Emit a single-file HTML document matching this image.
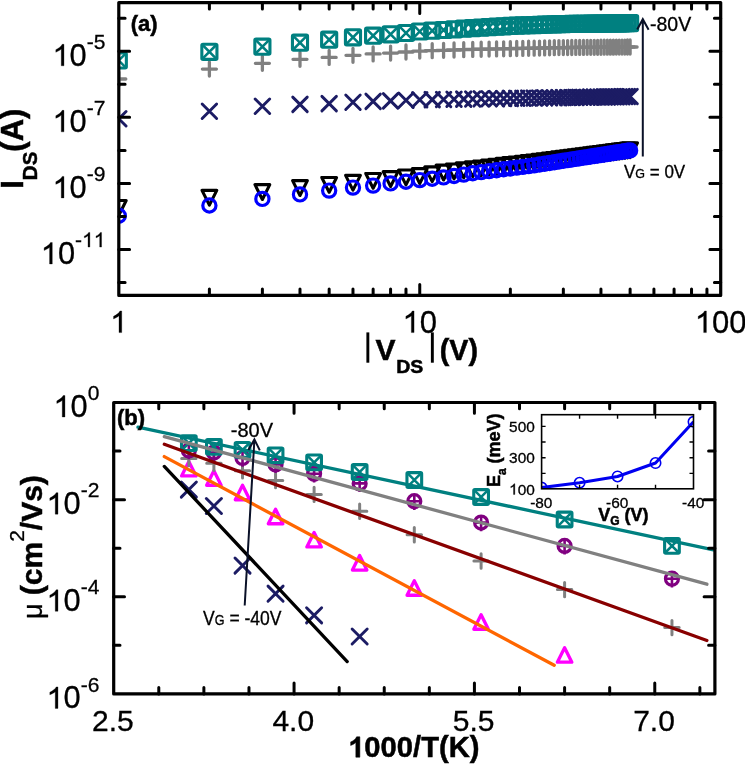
<!DOCTYPE html><html><head><meta charset="utf-8"><style>html,body{margin:0;padding:0;background:#fff;}svg{display:block;will-change:transform;}text{font-family:"Liberation Sans",sans-serif;stroke:#000;stroke-width:0.3px;}[font-weight="bold"]{stroke-width:0.5px;}</style></head><body><svg width="745" height="764" viewBox="0 0 745 764"><rect width="745" height="764" fill="#fff"/><defs><clipPath id="ca"><rect x="118.8" y="2.6" width="601.9" height="292.8"/></clipPath><clipPath id="cb"><rect x="113.7" y="402.5" width="601.2" height="291.4"/></clipPath></defs><g clip-path="url(#ca)" fill="none"><path d="M111.4 200.55H126.2L118.8 215.35Z" fill="none" stroke="#000" stroke-width="3.1" stroke-linejoin="round"/><path d="M201.99 190.35H216.79L209.39 205.15Z" fill="none" stroke="#000" stroke-width="3.1" stroke-linejoin="round"/><path d="M254.99 184.65H269.79L262.39 199.45Z" fill="none" stroke="#000" stroke-width="3.1" stroke-linejoin="round"/><path d="M292.59 180.65H307.39L299.99 195.45Z" fill="none" stroke="#000" stroke-width="3.1" stroke-linejoin="round"/><path d="M321.76 177.45H336.56L329.16 192.25Z" fill="none" stroke="#000" stroke-width="3.1" stroke-linejoin="round"/><path d="M345.58 175.35H360.38L352.98 190.15Z" fill="none" stroke="#000" stroke-width="3.1" stroke-linejoin="round"/><path d="M365.73 173.45H380.53L373.13 188.25Z" fill="none" stroke="#000" stroke-width="3.1" stroke-linejoin="round"/><path d="M383.18 171.65H397.98L390.58 186.45Z" fill="none" stroke="#000" stroke-width="3.1" stroke-linejoin="round"/><path d="M398.58 170.05H413.38L405.98 184.85Z" fill="none" stroke="#000" stroke-width="3.1" stroke-linejoin="round"/><path d="M412.35 168.66H427.15L419.75 183.46Z" fill="none" stroke="#000" stroke-width="3.1" stroke-linejoin="round"/><path d="M424.81 166.86H439.61L432.21 181.66Z" fill="none" stroke="#000" stroke-width="3.1" stroke-linejoin="round"/><path d="M436.18 165.15H450.98L443.58 179.95Z" fill="none" stroke="#000" stroke-width="3.1" stroke-linejoin="round"/><path d="M446.64 163.98H461.44L454.04 178.78Z" fill="none" stroke="#000" stroke-width="3.1" stroke-linejoin="round"/><path d="M456.33 162.9H471.13L463.73 177.7Z" fill="none" stroke="#000" stroke-width="3.1" stroke-linejoin="round"/><path d="M465.34 161.88H480.14L472.74 176.68Z" fill="none" stroke="#000" stroke-width="3.1" stroke-linejoin="round"/><path d="M473.78 160.94H488.58L481.18 175.74Z" fill="none" stroke="#000" stroke-width="3.1" stroke-linejoin="round"/><path d="M481.7 160.05H496.5L489.1 174.85Z" fill="none" stroke="#000" stroke-width="3.1" stroke-linejoin="round"/><path d="M489.17 159.22H503.97L496.57 174.02Z" fill="none" stroke="#000" stroke-width="3.1" stroke-linejoin="round"/><path d="M496.24 158.42H511.04L503.64 173.22Z" fill="none" stroke="#000" stroke-width="3.1" stroke-linejoin="round"/><path d="M502.94 157.67H517.74L510.34 172.47Z" fill="none" stroke="#000" stroke-width="3.1" stroke-linejoin="round"/><path d="M509.32 156.96H524.12L516.72 171.76Z" fill="none" stroke="#000" stroke-width="3.1" stroke-linejoin="round"/><path d="M515.4 156.28H530.2L522.8 171.08Z" fill="none" stroke="#000" stroke-width="3.1" stroke-linejoin="round"/><path d="M521.21 155.63H536.01L528.61 170.43Z" fill="none" stroke="#000" stroke-width="3.1" stroke-linejoin="round"/><path d="M526.77 155H541.57L534.17 169.8Z" fill="none" stroke="#000" stroke-width="3.1" stroke-linejoin="round"/><path d="M532.11 154.4H546.91L539.51 169.2Z" fill="none" stroke="#000" stroke-width="3.1" stroke-linejoin="round"/><path d="M537.24 153.75H552.04L544.64 168.55Z" fill="none" stroke="#000" stroke-width="3.1" stroke-linejoin="round"/><path d="M542.17 153.12H556.97L549.57 167.92Z" fill="none" stroke="#000" stroke-width="3.1" stroke-linejoin="round"/><path d="M546.92 152.51H561.72L554.32 167.31Z" fill="none" stroke="#000" stroke-width="3.1" stroke-linejoin="round"/><path d="M551.51 151.92H566.31L558.91 166.72Z" fill="none" stroke="#000" stroke-width="3.1" stroke-linejoin="round"/><path d="M555.94 151.35H570.74L563.34 166.15Z" fill="none" stroke="#000" stroke-width="3.1" stroke-linejoin="round"/><path d="M560.23 150.79H575.03L567.63 165.59Z" fill="none" stroke="#000" stroke-width="3.1" stroke-linejoin="round"/><path d="M564.37 150.26H579.17L571.77 165.06Z" fill="none" stroke="#000" stroke-width="3.1" stroke-linejoin="round"/><path d="M568.4 149.74H583.2L575.8 164.54Z" fill="none" stroke="#000" stroke-width="3.1" stroke-linejoin="round"/><path d="M572.3 149.24H587.1L579.7 164.04Z" fill="none" stroke="#000" stroke-width="3.1" stroke-linejoin="round"/><path d="M576.09 148.75H590.89L583.49 163.55Z" fill="none" stroke="#000" stroke-width="3.1" stroke-linejoin="round"/><path d="M579.77 148.28H594.57L587.17 163.08Z" fill="none" stroke="#000" stroke-width="3.1" stroke-linejoin="round"/><path d="M583.35 147.82H598.15L590.75 162.62Z" fill="none" stroke="#000" stroke-width="3.1" stroke-linejoin="round"/><path d="M586.84 147.37H601.64L594.24 162.17Z" fill="none" stroke="#000" stroke-width="3.1" stroke-linejoin="round"/><path d="M590.23 146.93H605.03L597.63 161.73Z" fill="none" stroke="#000" stroke-width="3.1" stroke-linejoin="round"/><path d="M593.54 146.5H608.34L600.94 161.3Z" fill="none" stroke="#000" stroke-width="3.1" stroke-linejoin="round"/><path d="M596.77 146.09H611.57L604.17 160.89Z" fill="none" stroke="#000" stroke-width="3.1" stroke-linejoin="round"/><path d="M599.92 145.68H614.72L607.32 160.48Z" fill="none" stroke="#000" stroke-width="3.1" stroke-linejoin="round"/><path d="M602.99 145.29H617.79L610.39 160.09Z" fill="none" stroke="#000" stroke-width="3.1" stroke-linejoin="round"/><path d="M606 144.9H620.8L613.4 159.7Z" fill="none" stroke="#000" stroke-width="3.1" stroke-linejoin="round"/><path d="M608.93 144.52H623.73L616.33 159.32Z" fill="none" stroke="#000" stroke-width="3.1" stroke-linejoin="round"/><path d="M611.81 144.15H626.61L619.21 158.95Z" fill="none" stroke="#000" stroke-width="3.1" stroke-linejoin="round"/><path d="M614.62 143.79H629.42L622.02 158.59Z" fill="none" stroke="#000" stroke-width="3.1" stroke-linejoin="round"/><path d="M617.37 143.44H632.17L624.77 158.24Z" fill="none" stroke="#000" stroke-width="3.1" stroke-linejoin="round"/><path d="M620.06 143.09H634.86L627.46 157.89Z" fill="none" stroke="#000" stroke-width="3.1" stroke-linejoin="round"/><path d="M622.71 142.75H637.51L630.11 157.55Z" fill="none" stroke="#000" stroke-width="3.1" stroke-linejoin="round"/><circle cx="118.8" cy="215.8" r="6.6" fill="none" stroke="#0000ff" stroke-width="3.2"/><circle cx="209.39" cy="205.5" r="6.6" fill="none" stroke="#0000ff" stroke-width="3.2"/><circle cx="262.39" cy="198.9" r="6.6" fill="none" stroke="#0000ff" stroke-width="3.2"/><circle cx="299.99" cy="194.4" r="6.6" fill="none" stroke="#0000ff" stroke-width="3.2"/><circle cx="329.16" cy="190.61" r="6.6" fill="none" stroke="#0000ff" stroke-width="3.2"/><circle cx="352.98" cy="187.6" r="6.6" fill="none" stroke="#0000ff" stroke-width="3.2"/><circle cx="373.13" cy="185.6" r="6.6" fill="none" stroke="#0000ff" stroke-width="3.2"/><circle cx="390.58" cy="183.4" r="6.6" fill="none" stroke="#0000ff" stroke-width="3.2"/><circle cx="405.98" cy="181.7" r="6.6" fill="none" stroke="#0000ff" stroke-width="3.2"/><circle cx="419.75" cy="180.11" r="6.6" fill="none" stroke="#0000ff" stroke-width="3.2"/><circle cx="432.21" cy="178.69" r="6.6" fill="none" stroke="#0000ff" stroke-width="3.2"/><circle cx="443.58" cy="177.4" r="6.6" fill="none" stroke="#0000ff" stroke-width="3.2"/><circle cx="454.04" cy="175.95" r="6.6" fill="none" stroke="#0000ff" stroke-width="3.2"/><circle cx="463.73" cy="174.6" r="6.6" fill="none" stroke="#0000ff" stroke-width="3.2"/><circle cx="472.74" cy="173.19" r="6.6" fill="none" stroke="#0000ff" stroke-width="3.2"/><circle cx="481.18" cy="172.13" r="6.6" fill="none" stroke="#0000ff" stroke-width="3.2"/><circle cx="489.1" cy="171.14" r="6.6" fill="none" stroke="#0000ff" stroke-width="3.2"/><circle cx="496.57" cy="170.2" r="6.6" fill="none" stroke="#0000ff" stroke-width="3.2"/><circle cx="503.64" cy="169.31" r="6.6" fill="none" stroke="#0000ff" stroke-width="3.2"/><circle cx="510.34" cy="168.47" r="6.6" fill="none" stroke="#0000ff" stroke-width="3.2"/><circle cx="516.72" cy="167.67" r="6.6" fill="none" stroke="#0000ff" stroke-width="3.2"/><circle cx="522.8" cy="166.9" r="6.6" fill="none" stroke="#0000ff" stroke-width="3.2"/><circle cx="528.61" cy="166.17" r="6.6" fill="none" stroke="#0000ff" stroke-width="3.2"/><circle cx="534.17" cy="165.35" r="6.6" fill="none" stroke="#0000ff" stroke-width="3.2"/><circle cx="539.51" cy="164.52" r="6.6" fill="none" stroke="#0000ff" stroke-width="3.2"/><circle cx="544.64" cy="163.72" r="6.6" fill="none" stroke="#0000ff" stroke-width="3.2"/><circle cx="549.57" cy="162.95" r="6.6" fill="none" stroke="#0000ff" stroke-width="3.2"/><circle cx="554.32" cy="162.21" r="6.6" fill="none" stroke="#0000ff" stroke-width="3.2"/><circle cx="558.91" cy="161.49" r="6.6" fill="none" stroke="#0000ff" stroke-width="3.2"/><circle cx="563.34" cy="160.8" r="6.6" fill="none" stroke="#0000ff" stroke-width="3.2"/><circle cx="567.63" cy="160.14" r="6.6" fill="none" stroke="#0000ff" stroke-width="3.2"/><circle cx="571.77" cy="159.49" r="6.6" fill="none" stroke="#0000ff" stroke-width="3.2"/><circle cx="575.8" cy="158.86" r="6.6" fill="none" stroke="#0000ff" stroke-width="3.2"/><circle cx="579.7" cy="158.25" r="6.6" fill="none" stroke="#0000ff" stroke-width="3.2"/><circle cx="583.49" cy="157.66" r="6.6" fill="none" stroke="#0000ff" stroke-width="3.2"/><circle cx="587.17" cy="157.09" r="6.6" fill="none" stroke="#0000ff" stroke-width="3.2"/><circle cx="590.75" cy="156.53" r="6.6" fill="none" stroke="#0000ff" stroke-width="3.2"/><circle cx="594.24" cy="155.99" r="6.6" fill="none" stroke="#0000ff" stroke-width="3.2"/><circle cx="597.63" cy="155.46" r="6.6" fill="none" stroke="#0000ff" stroke-width="3.2"/><circle cx="600.94" cy="154.94" r="6.6" fill="none" stroke="#0000ff" stroke-width="3.2"/><circle cx="604.17" cy="154.44" r="6.6" fill="none" stroke="#0000ff" stroke-width="3.2"/><circle cx="607.32" cy="153.95" r="6.6" fill="none" stroke="#0000ff" stroke-width="3.2"/><circle cx="610.39" cy="153.47" r="6.6" fill="none" stroke="#0000ff" stroke-width="3.2"/><circle cx="613.4" cy="153" r="6.6" fill="none" stroke="#0000ff" stroke-width="3.2"/><circle cx="616.33" cy="152.55" r="6.6" fill="none" stroke="#0000ff" stroke-width="3.2"/><circle cx="619.21" cy="152.1" r="6.6" fill="none" stroke="#0000ff" stroke-width="3.2"/><circle cx="622.02" cy="151.66" r="6.6" fill="none" stroke="#0000ff" stroke-width="3.2"/><circle cx="624.77" cy="151.23" r="6.6" fill="none" stroke="#0000ff" stroke-width="3.2"/><circle cx="627.46" cy="150.81" r="6.6" fill="none" stroke="#0000ff" stroke-width="3.2"/><circle cx="630.11" cy="150.4" r="6.6" fill="none" stroke="#0000ff" stroke-width="3.2"/><path d="M111.55 111.55L126.05 126.05M111.55 126.05L126.05 111.55" stroke="#1c1c64" stroke-width="2.9" stroke-linecap="round"/><path d="M202.14 103.95L216.64 118.45M202.14 118.45L216.64 103.95" stroke="#1c1c64" stroke-width="2.9" stroke-linecap="round"/><path d="M255.14 99.05L269.64 113.55M255.14 113.55L269.64 99.05" stroke="#1c1c64" stroke-width="2.9" stroke-linecap="round"/><path d="M292.74 97.15L307.24 111.65M292.74 111.65L307.24 97.15" stroke="#1c1c64" stroke-width="2.9" stroke-linecap="round"/><path d="M321.91 96.35L336.41 110.85M321.91 110.85L336.41 96.35" stroke="#1c1c64" stroke-width="2.9" stroke-linecap="round"/><path d="M345.73 94.95L360.23 109.45M345.73 109.45L360.23 94.95" stroke="#1c1c64" stroke-width="2.9" stroke-linecap="round"/><path d="M365.88 94.15L380.38 108.65M365.88 108.65L380.38 94.15" stroke="#1c1c64" stroke-width="2.9" stroke-linecap="round"/><path d="M383.33 93.65L397.83 108.15M383.33 108.15L397.83 93.65" stroke="#1c1c64" stroke-width="2.9" stroke-linecap="round"/><path d="M398.73 93.07L413.23 107.57M398.73 107.57L413.23 93.07" stroke="#1c1c64" stroke-width="2.9" stroke-linecap="round"/><path d="M412.5 92.55L427 107.05M412.5 107.05L427 92.55" stroke="#1c1c64" stroke-width="2.9" stroke-linecap="round"/><path d="M424.96 92.36L439.46 106.86M424.96 106.86L439.46 92.36" stroke="#1c1c64" stroke-width="2.9" stroke-linecap="round"/><path d="M436.33 92.18L450.83 106.68M436.33 106.68L450.83 92.18" stroke="#1c1c64" stroke-width="2.9" stroke-linecap="round"/><path d="M446.79 92.01L461.29 106.51M446.79 106.51L461.29 92.01" stroke="#1c1c64" stroke-width="2.9" stroke-linecap="round"/><path d="M456.48 91.86L470.98 106.36M456.48 106.36L470.98 91.86" stroke="#1c1c64" stroke-width="2.9" stroke-linecap="round"/><path d="M465.49 91.72L479.99 106.22M465.49 106.22L479.99 91.72" stroke="#1c1c64" stroke-width="2.9" stroke-linecap="round"/><path d="M473.93 91.59L488.43 106.09M473.93 106.09L488.43 91.59" stroke="#1c1c64" stroke-width="2.9" stroke-linecap="round"/><path d="M481.85 91.46L496.35 105.96M481.85 105.96L496.35 91.46" stroke="#1c1c64" stroke-width="2.9" stroke-linecap="round"/><path d="M489.32 91.35L503.82 105.85M489.32 105.85L503.82 91.35" stroke="#1c1c64" stroke-width="2.9" stroke-linecap="round"/><path d="M496.39 91.23L510.89 105.73M496.39 105.73L510.89 91.23" stroke="#1c1c64" stroke-width="2.9" stroke-linecap="round"/><path d="M503.09 91.13L517.59 105.63M503.09 105.63L517.59 91.13" stroke="#1c1c64" stroke-width="2.9" stroke-linecap="round"/><path d="M509.47 91.03L523.97 105.53M509.47 105.53L523.97 91.03" stroke="#1c1c64" stroke-width="2.9" stroke-linecap="round"/><path d="M515.55 90.93L530.05 105.43M515.55 105.43L530.05 90.93" stroke="#1c1c64" stroke-width="2.9" stroke-linecap="round"/><path d="M521.36 90.84L535.86 105.34M521.36 105.34L535.86 90.84" stroke="#1c1c64" stroke-width="2.9" stroke-linecap="round"/><path d="M526.92 90.76L541.42 105.26M526.92 105.26L541.42 90.76" stroke="#1c1c64" stroke-width="2.9" stroke-linecap="round"/><path d="M532.26 90.67L546.76 105.17M532.26 105.17L546.76 90.67" stroke="#1c1c64" stroke-width="2.9" stroke-linecap="round"/><path d="M537.39 90.59L551.89 105.09M537.39 105.09L551.89 90.59" stroke="#1c1c64" stroke-width="2.9" stroke-linecap="round"/><path d="M542.32 90.51L556.82 105.01M542.32 105.01L556.82 90.51" stroke="#1c1c64" stroke-width="2.9" stroke-linecap="round"/><path d="M547.07 90.44L561.57 104.94M547.07 104.94L561.57 90.44" stroke="#1c1c64" stroke-width="2.9" stroke-linecap="round"/><path d="M551.66 90.37L566.16 104.87M551.66 104.87L566.16 90.37" stroke="#1c1c64" stroke-width="2.9" stroke-linecap="round"/><path d="M556.09 90.3L570.59 104.8M556.09 104.8L570.59 90.3" stroke="#1c1c64" stroke-width="2.9" stroke-linecap="round"/><path d="M560.38 90.23L574.88 104.73M560.38 104.73L574.88 90.23" stroke="#1c1c64" stroke-width="2.9" stroke-linecap="round"/><path d="M564.52 90.17L579.02 104.67M564.52 104.67L579.02 90.17" stroke="#1c1c64" stroke-width="2.9" stroke-linecap="round"/><path d="M568.55 90.1L583.05 104.6M568.55 104.6L583.05 90.1" stroke="#1c1c64" stroke-width="2.9" stroke-linecap="round"/><path d="M572.45 90.04L586.95 104.54M572.45 104.54L586.95 90.04" stroke="#1c1c64" stroke-width="2.9" stroke-linecap="round"/><path d="M576.24 89.98L590.74 104.48M576.24 104.48L590.74 89.98" stroke="#1c1c64" stroke-width="2.9" stroke-linecap="round"/><path d="M579.92 89.92L594.42 104.42M579.92 104.42L594.42 89.92" stroke="#1c1c64" stroke-width="2.9" stroke-linecap="round"/><path d="M583.5 89.87L598 104.37M583.5 104.37L598 89.87" stroke="#1c1c64" stroke-width="2.9" stroke-linecap="round"/><path d="M586.99 89.81L601.49 104.31M586.99 104.31L601.49 89.81" stroke="#1c1c64" stroke-width="2.9" stroke-linecap="round"/><path d="M590.38 89.76L604.88 104.26M590.38 104.26L604.88 89.76" stroke="#1c1c64" stroke-width="2.9" stroke-linecap="round"/><path d="M593.69 89.71L608.19 104.21M593.69 104.21L608.19 89.71" stroke="#1c1c64" stroke-width="2.9" stroke-linecap="round"/><path d="M596.92 89.66L611.42 104.16M596.92 104.16L611.42 89.66" stroke="#1c1c64" stroke-width="2.9" stroke-linecap="round"/><path d="M600.07 89.61L614.57 104.11M600.07 104.11L614.57 89.61" stroke="#1c1c64" stroke-width="2.9" stroke-linecap="round"/><path d="M603.14 89.56L617.64 104.06M603.14 104.06L617.64 89.56" stroke="#1c1c64" stroke-width="2.9" stroke-linecap="round"/><path d="M606.15 89.51L620.65 104.01M606.15 104.01L620.65 89.51" stroke="#1c1c64" stroke-width="2.9" stroke-linecap="round"/><path d="M609.08 89.47L623.58 103.97M609.08 103.97L623.58 89.47" stroke="#1c1c64" stroke-width="2.9" stroke-linecap="round"/><path d="M611.96 89.42L626.46 103.92M611.96 103.92L626.46 89.42" stroke="#1c1c64" stroke-width="2.9" stroke-linecap="round"/><path d="M614.77 89.38L629.27 103.88M614.77 103.88L629.27 89.38" stroke="#1c1c64" stroke-width="2.9" stroke-linecap="round"/><path d="M617.52 89.33L632.02 103.83M617.52 103.83L632.02 89.33" stroke="#1c1c64" stroke-width="2.9" stroke-linecap="round"/><path d="M620.21 89.29L634.71 103.79M620.21 103.79L634.71 89.29" stroke="#1c1c64" stroke-width="2.9" stroke-linecap="round"/><path d="M622.86 89.25L637.36 103.75M622.86 103.75L637.36 89.25" stroke="#1c1c64" stroke-width="2.9" stroke-linecap="round"/><path d="M111.8 79H125.8M118.8 72V86" stroke="#808080" stroke-width="3.3" stroke-linecap="round"/><path d="M202.39 69.1H216.39M209.39 62.1V76.1" stroke="#808080" stroke-width="3.3" stroke-linecap="round"/><path d="M255.39 63.3H269.39M262.39 56.3V70.3" stroke="#808080" stroke-width="3.3" stroke-linecap="round"/><path d="M292.99 59.3H306.99M299.99 52.3V66.3" stroke="#808080" stroke-width="3.3" stroke-linecap="round"/><path d="M322.16 57.4H336.16M329.16 50.4V64.4" stroke="#808080" stroke-width="3.3" stroke-linecap="round"/><path d="M345.98 55.3H359.98M352.98 48.3V62.3" stroke="#808080" stroke-width="3.3" stroke-linecap="round"/><path d="M366.13 53.9H380.13M373.13 46.9V60.9" stroke="#808080" stroke-width="3.3" stroke-linecap="round"/><path d="M383.58 53.1H397.58M390.58 46.1V60.1" stroke="#808080" stroke-width="3.3" stroke-linecap="round"/><path d="M398.98 52H412.98M405.98 45V59" stroke="#808080" stroke-width="3.3" stroke-linecap="round"/><path d="M412.75 51.1H426.75M419.75 44.1V58.1" stroke="#808080" stroke-width="3.3" stroke-linecap="round"/><path d="M425.21 50.7H439.21M432.21 43.7V57.7" stroke="#808080" stroke-width="3.3" stroke-linecap="round"/><path d="M436.58 50.34H450.58M443.58 43.34V57.34" stroke="#808080" stroke-width="3.3" stroke-linecap="round"/><path d="M447.04 50.01H461.04M454.04 43.01V57.01" stroke="#808080" stroke-width="3.3" stroke-linecap="round"/><path d="M456.73 49.7H470.73M463.73 42.7V56.7" stroke="#808080" stroke-width="3.3" stroke-linecap="round"/><path d="M465.74 49.44H479.74M472.74 42.44V56.44" stroke="#808080" stroke-width="3.3" stroke-linecap="round"/><path d="M474.18 49.26H488.18M481.18 42.26V56.26" stroke="#808080" stroke-width="3.3" stroke-linecap="round"/><path d="M482.1 49.1H496.1M489.1 42.1V56.1" stroke="#808080" stroke-width="3.3" stroke-linecap="round"/><path d="M489.57 48.94H503.57M496.57 41.94V55.94" stroke="#808080" stroke-width="3.3" stroke-linecap="round"/><path d="M496.64 48.79H510.64M503.64 41.79V55.79" stroke="#808080" stroke-width="3.3" stroke-linecap="round"/><path d="M503.34 48.65H517.34M510.34 41.65V55.65" stroke="#808080" stroke-width="3.3" stroke-linecap="round"/><path d="M509.72 48.51H523.72M516.72 41.51V55.51" stroke="#808080" stroke-width="3.3" stroke-linecap="round"/><path d="M515.8 48.39H529.8M522.8 41.39V55.39" stroke="#808080" stroke-width="3.3" stroke-linecap="round"/><path d="M521.61 48.26H535.61M528.61 41.26V55.26" stroke="#808080" stroke-width="3.3" stroke-linecap="round"/><path d="M527.17 48.15H541.17M534.17 41.15V55.15" stroke="#808080" stroke-width="3.3" stroke-linecap="round"/><path d="M532.51 48.03H546.51M539.51 41.03V55.03" stroke="#808080" stroke-width="3.3" stroke-linecap="round"/><path d="M537.64 47.92H551.64M544.64 40.92V54.92" stroke="#808080" stroke-width="3.3" stroke-linecap="round"/><path d="M542.57 47.82H556.57M549.57 40.82V54.82" stroke="#808080" stroke-width="3.3" stroke-linecap="round"/><path d="M547.32 47.72H561.32M554.32 40.72V54.72" stroke="#808080" stroke-width="3.3" stroke-linecap="round"/><path d="M551.91 47.62H565.91M558.91 40.62V54.62" stroke="#808080" stroke-width="3.3" stroke-linecap="round"/><path d="M556.34 47.57H570.34M563.34 40.57V54.57" stroke="#808080" stroke-width="3.3" stroke-linecap="round"/><path d="M560.63 47.53H574.63M567.63 40.53V54.53" stroke="#808080" stroke-width="3.3" stroke-linecap="round"/><path d="M564.77 47.5H578.77M571.77 40.5V54.5" stroke="#808080" stroke-width="3.3" stroke-linecap="round"/><path d="M568.8 47.46H582.8M575.8 40.46V54.46" stroke="#808080" stroke-width="3.3" stroke-linecap="round"/><path d="M572.7 47.43H586.7M579.7 40.43V54.43" stroke="#808080" stroke-width="3.3" stroke-linecap="round"/><path d="M576.49 47.4H590.49M583.49 40.4V54.4" stroke="#808080" stroke-width="3.3" stroke-linecap="round"/><path d="M580.17 47.37H594.17M587.17 40.37V54.37" stroke="#808080" stroke-width="3.3" stroke-linecap="round"/><path d="M583.75 47.34H597.75M590.75 40.34V54.34" stroke="#808080" stroke-width="3.3" stroke-linecap="round"/><path d="M587.24 47.31H601.24M594.24 40.31V54.31" stroke="#808080" stroke-width="3.3" stroke-linecap="round"/><path d="M590.63 47.28H604.63M597.63 40.28V54.28" stroke="#808080" stroke-width="3.3" stroke-linecap="round"/><path d="M593.94 47.25H607.94M600.94 40.25V54.25" stroke="#808080" stroke-width="3.3" stroke-linecap="round"/><path d="M597.17 47.22H611.17M604.17 40.22V54.22" stroke="#808080" stroke-width="3.3" stroke-linecap="round"/><path d="M600.32 47.2H614.32M607.32 40.2V54.2" stroke="#808080" stroke-width="3.3" stroke-linecap="round"/><path d="M603.39 47.17H617.39M610.39 40.17V54.17" stroke="#808080" stroke-width="3.3" stroke-linecap="round"/><path d="M606.4 47.14H620.4M613.4 40.14V54.14" stroke="#808080" stroke-width="3.3" stroke-linecap="round"/><path d="M609.33 47.12H623.33M616.33 40.12V54.12" stroke="#808080" stroke-width="3.3" stroke-linecap="round"/><path d="M612.21 47.09H626.21M619.21 40.09V54.09" stroke="#808080" stroke-width="3.3" stroke-linecap="round"/><path d="M615.02 47.07H629.02M622.02 40.07V54.07" stroke="#808080" stroke-width="3.3" stroke-linecap="round"/><path d="M617.77 47.05H631.77M624.77 40.05V54.05" stroke="#808080" stroke-width="3.3" stroke-linecap="round"/><path d="M620.46 47.02H634.46M627.46 40.02V54.02" stroke="#808080" stroke-width="3.3" stroke-linecap="round"/><path d="M623.11 47H637.11M630.11 40V54" stroke="#808080" stroke-width="3.3" stroke-linecap="round"/><rect x="111.25" y="52.95" width="15.1" height="15.1" rx="1.2" fill="none" stroke="#008080" stroke-width="3.1"/><path d="M111.25 52.95L126.35 68.05M111.25 68.05L126.35 52.95" stroke="#008080" stroke-width="2.5"/><rect x="201.84" y="44.25" width="15.1" height="15.1" rx="1.2" fill="none" stroke="#008080" stroke-width="3.1"/><path d="M201.84 44.25L216.94 59.35M201.84 59.35L216.94 44.25" stroke="#008080" stroke-width="2.5"/><rect x="254.84" y="39.15" width="15.1" height="15.1" rx="1.2" fill="none" stroke="#008080" stroke-width="3.1"/><path d="M254.84 39.15L269.94 54.25M254.84 54.25L269.94 39.15" stroke="#008080" stroke-width="2.5"/><rect x="292.44" y="35.15" width="15.1" height="15.1" rx="1.2" fill="none" stroke="#008080" stroke-width="3.1"/><path d="M292.44 35.15L307.54 50.25M292.44 50.25L307.54 35.15" stroke="#008080" stroke-width="2.5"/><rect x="321.61" y="32.15" width="15.1" height="15.1" rx="1.2" fill="none" stroke="#008080" stroke-width="3.1"/><path d="M321.61 32.15L336.71 47.25M321.61 47.25L336.71 32.15" stroke="#008080" stroke-width="2.5"/><rect x="345.43" y="29.75" width="15.1" height="15.1" rx="1.2" fill="none" stroke="#008080" stroke-width="3.1"/><path d="M345.43 29.75L360.53 44.85M345.43 44.85L360.53 29.75" stroke="#008080" stroke-width="2.5"/><rect x="365.58" y="28.15" width="15.1" height="15.1" rx="1.2" fill="none" stroke="#008080" stroke-width="3.1"/><path d="M365.58 28.15L380.68 43.25M365.58 43.25L380.68 28.15" stroke="#008080" stroke-width="2.5"/><rect x="383.03" y="26.75" width="15.1" height="15.1" rx="1.2" fill="none" stroke="#008080" stroke-width="3.1"/><path d="M383.03 26.75L398.13 41.85M383.03 41.85L398.13 26.75" stroke="#008080" stroke-width="2.5"/><rect x="398.43" y="25.45" width="15.1" height="15.1" rx="1.2" fill="none" stroke="#008080" stroke-width="3.1"/><path d="M398.43 25.45L413.53 40.55M398.43 40.55L413.53 25.45" stroke="#008080" stroke-width="2.5"/><rect x="412.2" y="23.96" width="15.1" height="15.1" rx="1.2" fill="none" stroke="#008080" stroke-width="3.1"/><path d="M412.2 23.96L427.3 39.06M412.2 39.06L427.3 23.96" stroke="#008080" stroke-width="2.5"/><rect x="424.66" y="23.16" width="15.1" height="15.1" rx="1.2" fill="none" stroke="#008080" stroke-width="3.1"/><path d="M424.66 23.16L439.76 38.26M424.66 38.26L439.76 23.16" stroke="#008080" stroke-width="2.5"/><rect x="436.03" y="22.43" width="15.1" height="15.1" rx="1.2" fill="none" stroke="#008080" stroke-width="3.1"/><path d="M436.03 22.43L451.13 37.53M436.03 37.53L451.13 22.43" stroke="#008080" stroke-width="2.5"/><rect x="446.49" y="21.77" width="15.1" height="15.1" rx="1.2" fill="none" stroke="#008080" stroke-width="3.1"/><path d="M446.49 21.77L461.59 36.87M446.49 36.87L461.59 21.77" stroke="#008080" stroke-width="2.5"/><rect x="456.18" y="21.15" width="15.1" height="15.1" rx="1.2" fill="none" stroke="#008080" stroke-width="3.1"/><path d="M456.18 21.15L471.28 36.25M456.18 36.25L471.28 21.15" stroke="#008080" stroke-width="2.5"/><rect x="465.19" y="20.59" width="15.1" height="15.1" rx="1.2" fill="none" stroke="#008080" stroke-width="3.1"/><path d="M465.19 20.59L480.29 35.69M465.19 35.69L480.29 20.59" stroke="#008080" stroke-width="2.5"/><rect x="473.63" y="20.08" width="15.1" height="15.1" rx="1.2" fill="none" stroke="#008080" stroke-width="3.1"/><path d="M473.63 20.08L488.73 35.18M473.63 35.18L488.73 20.08" stroke="#008080" stroke-width="2.5"/><rect x="481.55" y="19.6" width="15.1" height="15.1" rx="1.2" fill="none" stroke="#008080" stroke-width="3.1"/><path d="M481.55 19.6L496.65 34.7M481.55 34.7L496.65 19.6" stroke="#008080" stroke-width="2.5"/><rect x="489.02" y="19.16" width="15.1" height="15.1" rx="1.2" fill="none" stroke="#008080" stroke-width="3.1"/><path d="M489.02 19.16L504.12 34.26M489.02 34.26L504.12 19.16" stroke="#008080" stroke-width="2.5"/><rect x="496.09" y="18.73" width="15.1" height="15.1" rx="1.2" fill="none" stroke="#008080" stroke-width="3.1"/><path d="M496.09 18.73L511.19 33.83M496.09 33.83L511.19 18.73" stroke="#008080" stroke-width="2.5"/><rect x="502.79" y="18.34" width="15.1" height="15.1" rx="1.2" fill="none" stroke="#008080" stroke-width="3.1"/><path d="M502.79 18.34L517.89 33.44M502.79 33.44L517.89 18.34" stroke="#008080" stroke-width="2.5"/><rect x="509.17" y="18.11" width="15.1" height="15.1" rx="1.2" fill="none" stroke="#008080" stroke-width="3.1"/><path d="M509.17 18.11L524.27 33.21M509.17 33.21L524.27 18.11" stroke="#008080" stroke-width="2.5"/><rect x="515.25" y="17.89" width="15.1" height="15.1" rx="1.2" fill="none" stroke="#008080" stroke-width="3.1"/><path d="M515.25 17.89L530.35 32.99M515.25 32.99L530.35 17.89" stroke="#008080" stroke-width="2.5"/><rect x="521.06" y="17.68" width="15.1" height="15.1" rx="1.2" fill="none" stroke="#008080" stroke-width="3.1"/><path d="M521.06 17.68L536.16 32.78M521.06 32.78L536.16 17.68" stroke="#008080" stroke-width="2.5"/><rect x="526.62" y="17.48" width="15.1" height="15.1" rx="1.2" fill="none" stroke="#008080" stroke-width="3.1"/><path d="M526.62 17.48L541.72 32.58M526.62 32.58L541.72 17.48" stroke="#008080" stroke-width="2.5"/><rect x="531.96" y="17.29" width="15.1" height="15.1" rx="1.2" fill="none" stroke="#008080" stroke-width="3.1"/><path d="M531.96 17.29L547.06 32.39M531.96 32.39L547.06 17.29" stroke="#008080" stroke-width="2.5"/><rect x="537.09" y="17.1" width="15.1" height="15.1" rx="1.2" fill="none" stroke="#008080" stroke-width="3.1"/><path d="M537.09 17.1L552.19 32.2M537.09 32.2L552.19 17.1" stroke="#008080" stroke-width="2.5"/><rect x="542.02" y="16.93" width="15.1" height="15.1" rx="1.2" fill="none" stroke="#008080" stroke-width="3.1"/><path d="M542.02 16.93L557.12 32.03M542.02 32.03L557.12 16.93" stroke="#008080" stroke-width="2.5"/><rect x="546.77" y="16.75" width="15.1" height="15.1" rx="1.2" fill="none" stroke="#008080" stroke-width="3.1"/><path d="M546.77 16.75L561.87 31.85M546.77 31.85L561.87 16.75" stroke="#008080" stroke-width="2.5"/><rect x="551.36" y="16.59" width="15.1" height="15.1" rx="1.2" fill="none" stroke="#008080" stroke-width="3.1"/><path d="M551.36 16.59L566.46 31.69M551.36 31.69L566.46 16.59" stroke="#008080" stroke-width="2.5"/><rect x="555.79" y="16.51" width="15.1" height="15.1" rx="1.2" fill="none" stroke="#008080" stroke-width="3.1"/><path d="M555.79 16.51L570.89 31.61M555.79 31.61L570.89 16.51" stroke="#008080" stroke-width="2.5"/><rect x="560.08" y="16.45" width="15.1" height="15.1" rx="1.2" fill="none" stroke="#008080" stroke-width="3.1"/><path d="M560.08 16.45L575.18 31.55M560.08 31.55L575.18 16.45" stroke="#008080" stroke-width="2.5"/><rect x="564.22" y="16.4" width="15.1" height="15.1" rx="1.2" fill="none" stroke="#008080" stroke-width="3.1"/><path d="M564.22 16.4L579.32 31.5M564.22 31.5L579.32 16.4" stroke="#008080" stroke-width="2.5"/><rect x="568.25" y="16.35" width="15.1" height="15.1" rx="1.2" fill="none" stroke="#008080" stroke-width="3.1"/><path d="M568.25 16.35L583.35 31.45M568.25 31.45L583.35 16.35" stroke="#008080" stroke-width="2.5"/><rect x="572.15" y="16.3" width="15.1" height="15.1" rx="1.2" fill="none" stroke="#008080" stroke-width="3.1"/><path d="M572.15 16.3L587.25 31.4M572.15 31.4L587.25 16.3" stroke="#008080" stroke-width="2.5"/><rect x="575.94" y="16.25" width="15.1" height="15.1" rx="1.2" fill="none" stroke="#008080" stroke-width="3.1"/><path d="M575.94 16.25L591.04 31.35M575.94 31.35L591.04 16.25" stroke="#008080" stroke-width="2.5"/><rect x="579.62" y="16.2" width="15.1" height="15.1" rx="1.2" fill="none" stroke="#008080" stroke-width="3.1"/><path d="M579.62 16.2L594.72 31.3M579.62 31.3L594.72 16.2" stroke="#008080" stroke-width="2.5"/><rect x="583.2" y="16.16" width="15.1" height="15.1" rx="1.2" fill="none" stroke="#008080" stroke-width="3.1"/><path d="M583.2 16.16L598.3 31.26M583.2 31.26L598.3 16.16" stroke="#008080" stroke-width="2.5"/><rect x="586.69" y="16.11" width="15.1" height="15.1" rx="1.2" fill="none" stroke="#008080" stroke-width="3.1"/><path d="M586.69 16.11L601.79 31.21M586.69 31.21L601.79 16.11" stroke="#008080" stroke-width="2.5"/><rect x="590.08" y="16.07" width="15.1" height="15.1" rx="1.2" fill="none" stroke="#008080" stroke-width="3.1"/><path d="M590.08 16.07L605.18 31.17M590.08 31.17L605.18 16.07" stroke="#008080" stroke-width="2.5"/><rect x="593.39" y="16.02" width="15.1" height="15.1" rx="1.2" fill="none" stroke="#008080" stroke-width="3.1"/><path d="M593.39 16.02L608.49 31.12M593.39 31.12L608.49 16.02" stroke="#008080" stroke-width="2.5"/><rect x="596.62" y="15.98" width="15.1" height="15.1" rx="1.2" fill="none" stroke="#008080" stroke-width="3.1"/><path d="M596.62 15.98L611.72 31.08M596.62 31.08L611.72 15.98" stroke="#008080" stroke-width="2.5"/><rect x="599.77" y="15.94" width="15.1" height="15.1" rx="1.2" fill="none" stroke="#008080" stroke-width="3.1"/><path d="M599.77 15.94L614.87 31.04M599.77 31.04L614.87 15.94" stroke="#008080" stroke-width="2.5"/><rect x="602.84" y="15.9" width="15.1" height="15.1" rx="1.2" fill="none" stroke="#008080" stroke-width="3.1"/><path d="M602.84 15.9L617.94 31M602.84 31L617.94 15.9" stroke="#008080" stroke-width="2.5"/><rect x="605.85" y="15.86" width="15.1" height="15.1" rx="1.2" fill="none" stroke="#008080" stroke-width="3.1"/><path d="M605.85 15.86L620.95 30.96M605.85 30.96L620.95 15.86" stroke="#008080" stroke-width="2.5"/><rect x="608.78" y="15.83" width="15.1" height="15.1" rx="1.2" fill="none" stroke="#008080" stroke-width="3.1"/><path d="M608.78 15.83L623.88 30.93M608.78 30.93L623.88 15.83" stroke="#008080" stroke-width="2.5"/><rect x="611.66" y="15.79" width="15.1" height="15.1" rx="1.2" fill="none" stroke="#008080" stroke-width="3.1"/><path d="M611.66 15.79L626.76 30.89M611.66 30.89L626.76 15.79" stroke="#008080" stroke-width="2.5"/><rect x="614.47" y="15.75" width="15.1" height="15.1" rx="1.2" fill="none" stroke="#008080" stroke-width="3.1"/><path d="M614.47 15.75L629.57 30.85M614.47 30.85L629.57 15.75" stroke="#008080" stroke-width="2.5"/><rect x="617.22" y="15.72" width="15.1" height="15.1" rx="1.2" fill="none" stroke="#008080" stroke-width="3.1"/><path d="M617.22 15.72L632.32 30.82M617.22 30.82L632.32 15.72" stroke="#008080" stroke-width="2.5"/><rect x="619.91" y="15.68" width="15.1" height="15.1" rx="1.2" fill="none" stroke="#008080" stroke-width="3.1"/><path d="M619.91 15.68L635.01 30.78M619.91 30.78L635.01 15.68" stroke="#008080" stroke-width="2.5"/><rect x="622.56" y="15.65" width="15.1" height="15.1" rx="1.2" fill="none" stroke="#008080" stroke-width="3.1"/><path d="M622.56 15.65L637.66 30.75M622.56 30.75L637.66 15.65" stroke="#008080" stroke-width="2.5"/></g><g stroke="#000" fill="none" stroke-linecap="round"><rect x="118.8" y="2.6" width="601.9" height="292.8" stroke-width="3.2" stroke-linejoin="round"/><path d="M118.8 18.27h6.3M720.7 18.27h-6.3M118.8 51.3h10.8M720.7 51.3h-10.8M118.8 84.33h6.3M720.7 84.33h-6.3M118.8 117.36h10.8M720.7 117.36h-10.8M118.8 150.39h6.3M720.7 150.39h-6.3M118.8 183.42h10.8M720.7 183.42h-10.8M118.8 216.45h6.3M720.7 216.45h-6.3M118.8 249.48h10.8M720.7 249.48h-10.8M118.8 282.51h6.3M720.7 282.51h-6.3M209.39 295.4v-6.3M209.39 2.6v6.3M262.39 295.4v-6.3M262.39 2.6v6.3M299.99 295.4v-6.3M299.99 2.6v6.3M329.16 295.4v-6.3M329.16 2.6v6.3M352.98 295.4v-6.3M352.98 2.6v6.3M373.13 295.4v-6.3M373.13 2.6v6.3M390.58 295.4v-6.3M390.58 2.6v6.3M405.98 295.4v-6.3M405.98 2.6v6.3M419.75 295.4v-10.8M419.75 2.6v10.8M510.34 295.4v-6.3M510.34 2.6v6.3M563.34 295.4v-6.3M563.34 2.6v6.3M600.94 295.4v-6.3M600.94 2.6v6.3M630.11 295.4v-6.3M630.11 2.6v6.3M653.93 295.4v-6.3M653.93 2.6v6.3M674.08 295.4v-6.3M674.08 2.6v6.3M691.53 295.4v-6.3M691.53 2.6v6.3M706.93 295.4v-6.3M706.93 2.6v6.3" stroke-width="3"/></g><text fill="#000"><tspan x="69.61" y="65.8" font-size="30.8">0</tspan><tspan x="86.73" y="48.9" font-size="21">-</tspan><tspan x="93.72" y="48.9" font-size="21">5</tspan></text><path d="M63.96 65.8L61.25 65.8L61.25 49.05Q60.27 49.96 58.68 50.86Q57.08 51.77 55.82 52.22L55.82 49.68Q58.09 48.64 59.79 47.17Q61.49 45.69 62.2 44.3L63.96 44.3Z" fill="#000" stroke="#000" stroke-width="0.3"/><text fill="#000"><tspan x="69.61" y="131.86" font-size="30.8">0</tspan><tspan x="86.73" y="114.96" font-size="21">-</tspan><tspan x="93.72" y="114.96" font-size="21">7</tspan></text><path d="M63.96 131.86L61.25 131.86L61.25 115.11Q60.27 116.02 58.68 116.92Q57.08 117.83 55.82 118.28L55.82 115.74Q58.09 114.7 59.79 113.23Q61.49 111.75 62.2 110.36L63.96 110.36Z" fill="#000" stroke="#000" stroke-width="0.3"/><text fill="#000"><tspan x="69.61" y="197.92" font-size="30.8">0</tspan><tspan x="86.73" y="181.02" font-size="21">-</tspan><tspan x="93.72" y="181.02" font-size="21">9</tspan></text><path d="M63.96 197.92L61.25 197.92L61.25 181.17Q60.27 182.08 58.68 182.98Q57.08 183.89 55.82 184.34L55.82 181.8Q58.09 180.76 59.79 179.29Q61.49 177.81 62.2 176.42L63.96 176.42Z" fill="#000" stroke="#000" stroke-width="0.3"/><text fill="#000"><tspan x="57.93" y="263.98" font-size="30.8">0</tspan><tspan x="75.06" y="247.08" font-size="21">-</tspan></text><path d="M52.28 263.98L49.57 263.98L49.57 247.23Q48.6 248.14 47 249.04Q45.41 249.95 44.14 250.4L44.14 247.86Q46.41 246.82 48.11 245.35Q49.81 243.87 50.52 242.48L52.28 242.48Z" fill="#000" stroke="#000" stroke-width="0.3"/><path d="M89.87 247.08L88.03 247.08L88.03 235.66Q87.36 236.28 86.27 236.89Q85.19 237.51 84.32 237.82L84.32 236.09Q85.87 235.38 87.03 234.38Q88.19 233.37 88.67 232.42L89.87 232.42Z" fill="#000" stroke="#000" stroke-width="0.3"/><path d="M101.55 247.08L99.7 247.08L99.7 235.66Q99.04 236.28 97.95 236.89Q96.86 237.51 96 237.82L96 236.09Q97.55 235.38 98.71 234.38Q99.87 233.37 100.35 232.42L101.55 232.42Z" fill="#000" stroke="#000" stroke-width="0.3"/><text fill="#000"></text><path d="M121.73 332.6L119.01 332.6L119.01 315.74Q118.02 316.65 116.42 317.56Q114.81 318.48 113.54 318.93L113.54 316.37Q115.83 315.33 117.54 313.85Q119.25 312.36 119.96 310.96L121.73 310.96Z" fill="#000" stroke="#000" stroke-width="0.3"/><text fill="#000"><tspan x="419.75" y="332.6" font-size="31">0</tspan></text><path d="M414.06 332.6L411.34 332.6L411.34 315.74Q410.35 316.65 408.75 317.56Q407.15 318.48 405.87 318.93L405.87 316.37Q408.16 315.33 409.87 313.85Q411.58 312.36 412.29 310.96L414.06 310.96Z" fill="#000" stroke="#000" stroke-width="0.3"/><text fill="#000"><tspan x="712.08" y="332.6" font-size="31">0</tspan><tspan x="729.32" y="332.6" font-size="31">0</tspan></text><path d="M706.4 332.6L703.67 332.6L703.67 315.74Q702.69 316.65 701.08 317.56Q699.48 318.48 698.21 318.93L698.21 316.37Q700.49 315.33 702.2 313.85Q703.91 312.36 704.62 310.96L706.4 310.96Z" fill="#000" stroke="#000" stroke-width="0.3"/><text transform="translate(23,188.8) rotate(-90)" font-size="31" font-weight="bold">I<tspan font-size="20.5" dy="14.1">DS</tspan><tspan dy="-14.1">(A)</tspan></text><rect x="366.4" y="332.4" width="2.9" height="30.3" fill="#000"/><rect x="430.9" y="332.4" width="2.9" height="30.3" fill="#000"/><text x="375.6" y="359.8" font-size="30" font-weight="bold">V</text><text x="396.2" y="372.7" font-size="18.2" font-weight="bold" textLength="27" lengthAdjust="spacingAndGlyphs">DS</text><text x="439.8" y="360" font-size="28.6" font-weight="bold">(V)</text><text x="130.8" y="30.9" font-size="22" font-weight="bold">(a)</text><path d="M642.8 156.6V19.4M637.2 29.5L642.8 19.2L648.6 29.8" stroke="#0a1128" stroke-width="2" fill="none"/><text transform="translate(650,31.4) scale(1,1.07)" font-size="19.5" stroke="#000" stroke-width="0.35">-80V</text><text transform="translate(624,177.6) scale(1,1.09)" font-size="17" stroke="#000" stroke-width="0.35">V<tspan font-size="12.5">G</tspan> = 0V</text><g clip-path="url(#cb)" fill="none"><path d="M181.3 482.05L196.4 497.15M181.3 497.15L196.4 482.05" stroke="#1c1c64" stroke-width="2.9" stroke-linecap="round"/><path d="M206.35 498.45L221.45 513.55M206.35 513.55L221.45 498.45" stroke="#1c1c64" stroke-width="2.9" stroke-linecap="round"/><path d="M234.98 558.05L250.08 573.15M234.98 573.15L250.08 558.05" stroke="#1c1c64" stroke-width="2.9" stroke-linecap="round"/><path d="M268.01 586.15L283.11 601.25M268.01 601.25L283.11 586.15" stroke="#1c1c64" stroke-width="2.9" stroke-linecap="round"/><path d="M306.55 607.75L321.65 622.85M306.55 622.85L321.65 607.75" stroke="#1c1c64" stroke-width="2.9" stroke-linecap="round"/><path d="M352.1 628.95L367.2 644.05M352.1 644.05L367.2 628.95" stroke="#1c1c64" stroke-width="2.9" stroke-linecap="round"/><path d="M188.85 461.45L196.1 475.95H181.6Z" fill="none" stroke="#ff00ff" stroke-width="3.3" stroke-linejoin="round"/><path d="M213.9 470.75L221.15 485.25H206.65Z" fill="none" stroke="#ff00ff" stroke-width="3.3" stroke-linejoin="round"/><path d="M242.53 485.25L249.78 499.75H235.28Z" fill="none" stroke="#ff00ff" stroke-width="3.3" stroke-linejoin="round"/><path d="M275.56 509.25L282.81 523.75H268.31Z" fill="none" stroke="#ff00ff" stroke-width="3.3" stroke-linejoin="round"/><path d="M314.1 532.45L321.35 546.95H306.85Z" fill="none" stroke="#ff00ff" stroke-width="3.3" stroke-linejoin="round"/><path d="M359.65 555.55L366.9 570.05H352.4Z" fill="none" stroke="#ff00ff" stroke-width="3.3" stroke-linejoin="round"/><path d="M414.3 580.75L421.55 595.25H407.05Z" fill="none" stroke="#ff00ff" stroke-width="3.3" stroke-linejoin="round"/><path d="M481.1 614.75L488.35 629.25H473.85Z" fill="none" stroke="#ff00ff" stroke-width="3.3" stroke-linejoin="round"/><path d="M564.6 647.65L571.85 662.15H557.35Z" fill="none" stroke="#ff00ff" stroke-width="3.3" stroke-linejoin="round"/><path d="M181.65 458.5H196.05M188.85 451.3V465.7" stroke="#808080" stroke-width="3" stroke-linecap="round"/><path d="M206.7 463.3H221.1M213.9 456.1V470.5" stroke="#808080" stroke-width="3" stroke-linecap="round"/><path d="M235.33 470.8H249.73M242.53 463.6V478" stroke="#808080" stroke-width="3" stroke-linecap="round"/><path d="M268.36 480.6H282.76M275.56 473.4V487.8" stroke="#808080" stroke-width="3" stroke-linecap="round"/><path d="M306.9 494.4H321.3M314.1 487.2V501.6" stroke="#808080" stroke-width="3" stroke-linecap="round"/><path d="M352.45 511.2H366.85M359.65 504V518.4" stroke="#808080" stroke-width="3" stroke-linecap="round"/><path d="M407.1 534.7H421.5M414.3 527.5V541.9" stroke="#808080" stroke-width="3" stroke-linecap="round"/><path d="M473.9 561H488.3M481.1 553.8V568.2" stroke="#808080" stroke-width="3" stroke-linecap="round"/><path d="M557.4 589.6H571.8M564.6 582.4V596.8" stroke="#808080" stroke-width="3" stroke-linecap="round"/><path d="M664.76 627.6H679.16M671.96 620.4V634.8" stroke="#808080" stroke-width="3" stroke-linecap="round"/><circle cx="188.85" cy="450.5" r="6.5" fill="none" stroke="#800080" stroke-width="3.2"/><path d="M182.35 450.5H195.35M188.85 444V459.2" stroke="#800080" stroke-width="2.6"/><circle cx="213.9" cy="452.6" r="6.5" fill="none" stroke="#800080" stroke-width="3.2"/><path d="M207.4 452.6H220.4M213.9 446.1V461.3" stroke="#800080" stroke-width="2.6"/><circle cx="242.53" cy="458" r="6.5" fill="none" stroke="#800080" stroke-width="3.2"/><path d="M236.03 458H249.03M242.53 451.5V466.7" stroke="#800080" stroke-width="2.6"/><circle cx="275.56" cy="464.4" r="6.5" fill="none" stroke="#800080" stroke-width="3.2"/><path d="M269.06 464.4H282.06M275.56 457.9V473.1" stroke="#800080" stroke-width="2.6"/><circle cx="314.1" cy="473.8" r="6.5" fill="none" stroke="#800080" stroke-width="3.2"/><path d="M307.6 473.8H320.6M314.1 467.3V482.5" stroke="#800080" stroke-width="2.6"/><circle cx="359.65" cy="483.4" r="6.5" fill="none" stroke="#800080" stroke-width="3.2"/><path d="M353.15 483.4H366.15M359.65 476.9V492.1" stroke="#800080" stroke-width="2.6"/><circle cx="414.3" cy="501.2" r="6.5" fill="none" stroke="#800080" stroke-width="3.2"/><path d="M407.8 501.2H420.8M414.3 494.7V509.9" stroke="#800080" stroke-width="2.6"/><circle cx="481.1" cy="522.6" r="6.5" fill="none" stroke="#800080" stroke-width="3.2"/><path d="M474.6 522.6H487.6M481.1 516.1V531.3" stroke="#800080" stroke-width="2.6"/><circle cx="564.6" cy="545.9" r="6.5" fill="none" stroke="#800080" stroke-width="3.2"/><path d="M558.1 545.9H571.1M564.6 539.4V554.6" stroke="#800080" stroke-width="2.6"/><circle cx="671.96" cy="578.7" r="6.5" fill="none" stroke="#800080" stroke-width="3.2"/><path d="M665.46 578.7H678.46M671.96 572.2V587.4" stroke="#800080" stroke-width="2.6"/><rect x="181.5" y="435.85" width="14.7" height="14.7" rx="1.2" fill="none" stroke="#008080" stroke-width="3.1"/><path d="M181.5 435.85L196.2 450.55M181.5 450.55L196.2 435.85" stroke="#008080" stroke-width="2.5"/><rect x="206.55" y="439.55" width="14.7" height="14.7" rx="1.2" fill="none" stroke="#008080" stroke-width="3.1"/><path d="M206.55 439.55L221.25 454.25M206.55 454.25L221.25 439.55" stroke="#008080" stroke-width="2.5"/><rect x="235.18" y="442.55" width="14.7" height="14.7" rx="1.2" fill="none" stroke="#008080" stroke-width="3.1"/><path d="M235.18 442.55L249.88 457.25M235.18 457.25L249.88 442.55" stroke="#008080" stroke-width="2.5"/><rect x="268.21" y="447.95" width="14.7" height="14.7" rx="1.2" fill="none" stroke="#008080" stroke-width="3.1"/><path d="M268.21 447.95L282.91 462.65M268.21 462.65L282.91 447.95" stroke="#008080" stroke-width="2.5"/><rect x="306.75" y="455.05" width="14.7" height="14.7" rx="1.2" fill="none" stroke="#008080" stroke-width="3.1"/><path d="M306.75 455.05L321.45 469.75M306.75 469.75L321.45 455.05" stroke="#008080" stroke-width="2.5"/><rect x="352.3" y="464.65" width="14.7" height="14.7" rx="1.2" fill="none" stroke="#008080" stroke-width="3.1"/><path d="M352.3 464.65L367 479.35M352.3 479.35L367 464.65" stroke="#008080" stroke-width="2.5"/><rect x="406.95" y="472.65" width="14.7" height="14.7" rx="1.2" fill="none" stroke="#008080" stroke-width="3.1"/><path d="M406.95 472.65L421.65 487.35M406.95 487.35L421.65 472.65" stroke="#008080" stroke-width="2.5"/><rect x="473.75" y="489.65" width="14.7" height="14.7" rx="1.2" fill="none" stroke="#008080" stroke-width="3.1"/><path d="M473.75 489.65L488.45 504.35M473.75 504.35L488.45 489.65" stroke="#008080" stroke-width="2.5"/><rect x="557.25" y="512.15" width="14.7" height="14.7" rx="1.2" fill="none" stroke="#008080" stroke-width="3.1"/><path d="M557.25 512.15L571.95 526.85M557.25 526.85L571.95 512.15" stroke="#008080" stroke-width="2.5"/><rect x="664.61" y="538.55" width="14.7" height="14.7" rx="1.2" fill="none" stroke="#008080" stroke-width="3.1"/><path d="M664.61 538.55L679.31 553.25M664.61 553.25L679.31 538.55" stroke="#008080" stroke-width="2.5"/></g><g clip-path="url(#cb)" fill="none" stroke-width="3.3" stroke-linecap="round"><path d="M138 427.2L713.5 549.8" stroke="#008080"/><path d="M164.3 436.6L706.9 584.2" stroke="#808080"/><path d="M164.3 444.3L706.9 640.5" stroke="#880000"/><path d="M164.3 456.6L554.2 665.3" stroke="#ff6600"/><path d="M164.3 466.4L347.2 661.6" stroke="#000"/></g><g stroke="#000" fill="none" stroke-linecap="round"><rect x="113.7" y="402.5" width="601.2" height="291.4" stroke-width="3.2" stroke-linejoin="round"/><path d="M113.7 451.07h6.3M714.9 451.07h-6.3M113.7 499.63h10.8M714.9 499.63h-10.8M113.7 548.2h6.3M714.9 548.2h-6.3M113.7 596.77h10.8M714.9 596.77h-10.8M113.7 645.33h6.3M714.9 645.33h-6.3M158.79 693.9v-6.3M158.79 402.5v6.3M203.88 693.9v-6.3M203.88 402.5v6.3M248.97 693.9v-6.3M248.97 402.5v6.3M294.06 693.9v-10.8M294.06 402.5v10.8M339.15 693.9v-6.3M339.15 402.5v6.3M384.24 693.9v-6.3M384.24 402.5v6.3M429.33 693.9v-6.3M429.33 402.5v6.3M474.42 693.9v-10.8M474.42 402.5v10.8M519.51 693.9v-6.3M519.51 402.5v6.3M564.6 693.9v-6.3M564.6 402.5v6.3M609.69 693.9v-6.3M609.69 402.5v6.3M654.78 693.9v-10.8M654.78 402.5v10.8M699.87 693.9v-6.3M699.87 402.5v6.3" stroke-width="3"/></g><text fill="#000"><tspan x="70.6" y="417" font-size="30.8">0</tspan><tspan x="87.72" y="400.1" font-size="21">0</tspan></text><path d="M64.95 417L62.24 417L62.24 400.25Q61.26 401.16 59.67 402.06Q58.08 402.97 56.81 403.42L56.81 400.88Q59.08 399.84 60.78 398.37Q62.48 396.89 63.19 395.5L64.95 395.5Z" fill="#000" stroke="#000" stroke-width="0.3"/><text fill="#000"><tspan x="63.61" y="514.13" font-size="30.8">0</tspan><tspan x="80.73" y="497.23" font-size="21">-</tspan><tspan x="87.72" y="497.23" font-size="21">2</tspan></text><path d="M57.96 514.13L55.25 514.13L55.25 497.38Q54.27 498.29 52.68 499.19Q51.08 500.1 49.82 500.55L49.82 498.01Q52.09 496.97 53.79 495.5Q55.49 494.03 56.2 492.64L57.96 492.64Z" fill="#000" stroke="#000" stroke-width="0.3"/><text fill="#000"><tspan x="63.61" y="611.27" font-size="30.8">0</tspan><tspan x="80.73" y="594.37" font-size="21">-</tspan><tspan x="87.72" y="594.37" font-size="21">4</tspan></text><path d="M57.96 611.27L55.25 611.27L55.25 594.52Q54.27 595.42 52.68 596.33Q51.08 597.23 49.82 597.69L49.82 595.15Q52.09 594.11 53.79 592.63Q55.49 591.16 56.2 589.77L57.96 589.77Z" fill="#000" stroke="#000" stroke-width="0.3"/><text fill="#000"><tspan x="63.61" y="708.4" font-size="30.8">0</tspan><tspan x="80.73" y="691.5" font-size="21">-</tspan><tspan x="87.72" y="691.5" font-size="21">6</tspan></text><path d="M57.96 708.4L55.25 708.4L55.25 691.65Q54.27 692.56 52.68 693.46Q51.08 694.37 49.82 694.82L49.82 692.28Q52.09 691.24 53.79 689.77Q55.49 688.29 56.2 686.9L57.96 686.9Z" fill="#000" stroke="#000" stroke-width="0.3"/><text fill="#000"><tspan x="92.05" y="731" font-size="30">2</tspan><tspan x="108.73" y="731" font-size="30">.</tspan><tspan x="117.07" y="731" font-size="30">5</tspan></text><text fill="#000"><tspan x="272.41" y="731" font-size="30">4</tspan><tspan x="289.09" y="731" font-size="30">.</tspan><tspan x="297.43" y="731" font-size="30">0</tspan></text><text fill="#000"><tspan x="452.77" y="731" font-size="30">5</tspan><tspan x="469.45" y="731" font-size="30">.</tspan><tspan x="477.79" y="731" font-size="30">5</tspan></text><text fill="#000"><tspan x="633.13" y="731" font-size="30">7</tspan><tspan x="649.81" y="731" font-size="30">.</tspan><tspan x="658.15" y="731" font-size="30">0</tspan></text><text fill="#000" font-weight="bold"><tspan x="364.32" y="757.2" font-size="29.2">0</tspan><tspan x="380.56" y="757.2" font-size="29.2">0</tspan><tspan x="396.79" y="757.2" font-size="29.2">0</tspan><tspan x="413.03" y="757.2" font-size="29.2">/</tspan><tspan x="421.14" y="757.2" font-size="29.2">T</tspan><tspan x="438.99" y="757.2" font-size="29.2">(</tspan><tspan x="448.71" y="757.2" font-size="29.2">K</tspan><tspan x="469.79" y="757.2" font-size="29.2">)</tspan></text><path d="M359.85 757.2L355.84 757.2L355.84 742.48Q353.65 744.48 350.67 745.44L350.67 741.89Q352.23 741.39 354.07 739.99Q355.91 738.6 356.6 736.82L359.85 736.82Z" fill="#000" stroke="#000" stroke-width="0.5"/><text transform="translate(41.5,619.1) rotate(-90)" font-size="30"><tspan font-size="27">μ</tspan><tspan font-weight="bold"> (cm</tspan><tspan font-size="21" dy="-17.6">2</tspan><tspan font-weight="bold" dy="17.6">/Vs)</tspan></text><text x="117" y="425.3" font-size="22" font-weight="bold">(b)</text><path d="M244.7 605.5L254.4 439.6M248.4 450L254.4 439.4L259.8 450.4" stroke="#0a1128" stroke-width="2" fill="none"/><text transform="translate(230.8,436.7) scale(1,1.05)" font-size="20" stroke="#000" stroke-width="0.35">-80V</text><text transform="translate(203,625.4) scale(0.9,1.02)" font-size="19.5" stroke="#000" stroke-width="0.35">V<tspan font-size="14">G</tspan> = -40V</text><rect x="541.6" y="414.7" width="151.9" height="74.1" fill="#fff"/><defs><clipPath id="ci"><rect x="541.6" y="414.7" width="151.9" height="74.1"/></clipPath></defs><g clip-path="url(#ci)" fill="none"><path d="M541.6 487.59L579.58 482.74L617.55 476.48L655.52 463.02L693.5 421.86" stroke="#0000f0" stroke-width="3" stroke-linejoin="round"/><circle cx="541.6" cy="487.59" r="5.2" fill="none" stroke="#0000f0" stroke-width="1.6"/><circle cx="579.58" cy="482.74" r="5.2" fill="none" stroke="#0000f0" stroke-width="1.6"/><circle cx="617.55" cy="476.48" r="5.2" fill="none" stroke="#0000f0" stroke-width="1.6"/><circle cx="655.52" cy="463.02" r="5.2" fill="none" stroke="#0000f0" stroke-width="1.6"/><circle cx="693.5" cy="421.86" r="5.2" fill="none" stroke="#0000f0" stroke-width="1.6"/></g><g stroke="#000" fill="none"><rect x="541.6" y="414.7" width="151.9" height="74.1" stroke-width="1.6"/><path d="M541.6 473.35h4M693.5 473.35h-4M541.6 457.7h4M693.5 457.7h-4M541.6 442.05h4M693.5 442.05h-4M541.6 426.4h4M693.5 426.4h-4M579.58 488.8v-4M579.58 414.7v4M617.55 488.8v-4M617.55 414.7v4M655.52 488.8v-4M655.52 414.7v4" stroke-width="1.4"/></g><text fill="#000"><tspan x="517.68" y="494.5" font-size="15.4">0</tspan><tspan x="526.24" y="494.5" font-size="15.4">0</tspan></text><path d="M514.85 494.5L513.5 494.5L513.5 486.13Q513.01 486.58 512.21 487.03Q511.41 487.48 510.78 487.71L510.78 486.44Q511.92 485.92 512.77 485.18Q513.62 484.45 513.97 483.75L514.85 483.75Z" fill="#000" stroke="#000" stroke-width="0.3"/><text fill="#000"><tspan x="509.11" y="463.2" font-size="15.4">3</tspan><tspan x="517.68" y="463.2" font-size="15.4">0</tspan><tspan x="526.24" y="463.2" font-size="15.4">0</tspan></text><text fill="#000"><tspan x="509.11" y="431.9" font-size="15.4">5</tspan><tspan x="517.68" y="431.9" font-size="15.4">0</tspan><tspan x="526.24" y="431.9" font-size="15.4">0</tspan></text><text fill="#000"><tspan x="530.17" y="508" font-size="15.4">-</tspan><tspan x="535.3" y="508" font-size="15.4">8</tspan><tspan x="543.86" y="508" font-size="15.4">0</tspan></text><text fill="#000"><tspan x="606.12" y="508" font-size="15.4">-</tspan><tspan x="611.25" y="508" font-size="15.4">6</tspan><tspan x="619.81" y="508" font-size="15.4">0</tspan></text><text fill="#000"><tspan x="682.07" y="508" font-size="15.4">-</tspan><tspan x="687.2" y="508" font-size="15.4">4</tspan><tspan x="695.76" y="508" font-size="15.4">0</tspan></text><text transform="translate(500,487.1) rotate(-90)" font-size="18" font-weight="bold">E<tspan font-size="12" dy="5.5">a</tspan><tspan dy="-5.5"> (meV)</tspan></text><text x="598.2" y="521.4" font-size="18" font-weight="bold">V<tspan font-size="12" dy="4">G</tspan><tspan dy="-4"> (V)</tspan></text></svg></body></html>
